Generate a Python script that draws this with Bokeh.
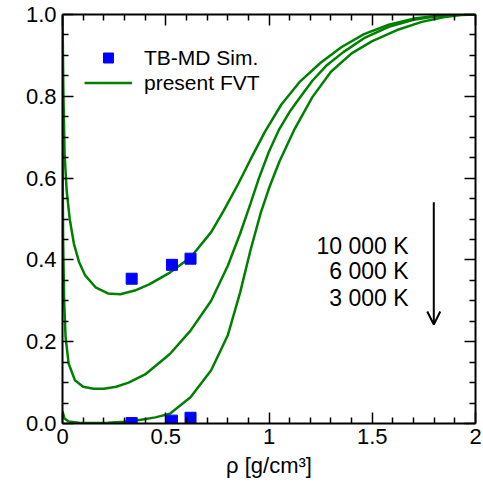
import math
from bokeh.plotting import figure
from bokeh.models import (Range1d, LinearAxis, FixedTicker, Legend, LegendItem,
                          Label, Arrow, OpenHead)
from bokeh.embed import file_html
from bokeh.resources import INLINE

# ---------------- data ----------------
sim_rho = [0.335, 0.53, 0.62, 0.335, 0.53, 0.62]
sim_alpha = [0.354, 0.388, 0.403, 0.001, 0.007, 0.014]

fvt_10000_rho = [0.0, 0.004, 0.01, 0.02, 0.035, 0.055, 0.08, 0.11, 0.16, 0.22, 0.28,
                 0.35, 0.42, 0.52, 0.62, 0.72, 0.78, 0.85, 0.91, 0.98, 1.06, 1.15,
                 1.25, 1.35, 1.46, 1.58, 1.70, 1.82, 1.92, 2.0]
fvt_10000_alpha = [1.0, 0.82, 0.66, 0.57, 0.50, 0.44, 0.395, 0.362, 0.333, 0.318, 0.316,
                   0.325, 0.34, 0.369, 0.406, 0.468, 0.52, 0.585, 0.645, 0.713, 0.78, 0.836,
                   0.882, 0.92, 0.952, 0.975, 0.99, 0.997, 1.0, 1.0]

fvt_6000_rho = [0.0, 0.003, 0.008, 0.015, 0.03, 0.06, 0.10, 0.15, 0.20, 0.26, 0.32, 0.40,
                0.52, 0.62, 0.72, 0.80, 0.86, 0.91, 0.95, 1.0, 1.05, 1.10, 1.15, 1.21,
                1.28, 1.36, 1.46, 1.58, 1.70, 1.82, 1.92, 2.0]
fvt_6000_alpha = [0.70, 0.45, 0.30, 0.21, 0.146, 0.106, 0.09, 0.085, 0.085, 0.09, 0.10, 0.12,
                  0.17, 0.227, 0.30, 0.385, 0.464, 0.537, 0.598, 0.665, 0.72, 0.762, 0.797,
                  0.838, 0.876, 0.908, 0.942, 0.97, 0.987, 0.996, 1.0, 1.0]

fvt_3000_rho = [0.0, 0.01, 0.03, 0.08, 0.15, 0.22, 0.30, 0.38, 0.45, 0.52, 0.62, 0.72, 0.80,
                0.86, 0.91, 0.96, 1.0, 1.05, 1.12, 1.21, 1.30, 1.40, 1.50, 1.62, 1.74,
                1.85, 1.93, 2.0]
fvt_3000_alpha = [0.03, 0.012, 0.005, 0.002, 0.001, 0.002, 0.004, 0.009, 0.015, 0.024, 0.064,
                  0.13, 0.215, 0.32, 0.423, 0.515, 0.575, 0.64, 0.716, 0.798, 0.86, 0.905,
                  0.935, 0.962, 0.982, 0.994, 0.999, 1.0]

x_ticks = [0, 0.5, 1, 1.5, 2]
x_tick_labels = ["0", "0.5", "1", "1.5", "2"]
x_minor = [0.1, 0.2, 0.3, 0.4, 0.6, 0.7, 0.8, 0.9, 1.1, 1.2, 1.3, 1.4, 1.6, 1.7, 1.8, 1.9]
y_ticks = [0.0, 0.2, 0.4, 0.6, 0.8, 1.0]
y_tick_labels = ["0.0", "0.2", "0.4", "0.6", "0.8", "1.0"]
y_minor = [0.05, 0.1, 0.15, 0.25, 0.3, 0.35, 0.45, 0.5, 0.55, 0.65, 0.7, 0.75,
           0.85, 0.9, 0.95]
temp_labels = ["10 000 K", "6 000 K", "3 000 K"]
x_title = "ρ [g/cm³]"
y_title = "α"
legend_labels = ["TB-MD Sim.", "present FVT"]

FONT = "Liberation Sans"
GREEN = "#008000"
BLUE = "#0000ff"

p = figure(frame_width=413, frame_height=409, output_backend="svg", toolbar_location=None,
           x_range=Range1d(0, 2), y_range=Range1d(0, 1),
           min_border_left=62, min_border_right=7, min_border_top=14, min_border_bottom=69,
           x_axis_label=x_title)
p.grid.visible = False
p.outline_line_color = None
p.background_fill_color = "white"
p.border_fill_color = "white"


def style_axis(ax, ticks, minor, labels, show_labels=True):
    ax.ticker = FixedTicker(ticks=ticks, minor_ticks=minor)
    ax.major_tick_in = 11
    ax.major_tick_out = 0
    ax.minor_tick_in = 6
    ax.minor_tick_out = 0
    ax.axis_line_width = 2
    ax.axis_line_color = "black"
    ax.major_tick_line_width = 1.5
    ax.minor_tick_line_width = 1.5
    ax.major_tick_line_color = "black"
    ax.minor_tick_line_color = "black"
    if show_labels:
        ax.major_label_overrides = dict(zip(ticks, labels))
        ax.major_label_text_font = FONT
        ax.major_label_text_font_size = "22px"
        ax.major_label_text_color = "black"
        ax.axis_label_text_font = FONT
        ax.axis_label_text_font_size = "22px"
        ax.axis_label_text_font_style = "normal"
        ax.axis_label_text_color = "black"
    else:
        ax.major_label_text_color = None
        ax.major_label_text_font_size = "1px"
        ax.major_label_standoff = 0


style_axis(p.xaxis[0], x_ticks, x_minor, x_tick_labels)
style_axis(p.yaxis[0], y_ticks, y_minor, y_tick_labels)
p.xaxis[0].major_label_standoff = 5
p.xaxis[0].axis_label_standoff = 6
p.yaxis[0].major_label_standoff = 6

top_ax = LinearAxis()
right_ax = LinearAxis()
style_axis(top_ax, x_ticks, x_minor, x_tick_labels, show_labels=False)
style_axis(right_ax, y_ticks, y_minor, y_tick_labels, show_labels=False)
p.add_layout(top_ax, "above")
p.add_layout(right_ax, "right")

r1 = p.line(fvt_10000_rho, fvt_10000_alpha, line_color=GREEN, line_width=2.5)
r2 = p.line(fvt_6000_rho, fvt_6000_alpha, line_color=GREEN, line_width=2.5)
r3 = p.line(fvt_3000_rho, fvt_3000_alpha, line_color=GREEN, line_width=2.5)
rs = p.scatter(sim_rho, sim_alpha, marker="square", size=11,
               fill_color=BLUE, line_color=BLUE, line_width=1)

legend = Legend(items=[LegendItem(label=legend_labels[0], renderers=[rs]),
                       LegendItem(label=legend_labels[1], renderers=[r1])],
                location=(22, 328), padding=0, spacing=0, margin=0,
                glyph_width=48, glyph_height=25, label_height=25, label_standoff=12,
                label_text_font=FONT, label_text_font_size="21px",
                label_text_color="black",
                border_line_color=None, background_fill_alpha=0)
p.add_layout(legend)

# y-axis title, placed left of the tick labels
p.add_layout(Label(x=-0.225, y=0.5, text=y_title, angle=math.pi / 2,
                   text_align="center", text_baseline="middle", text_font=FONT,
                   text_font_size="22px", text_color="black"))

label_y = [0.435, 0.372, 0.308]
for txt, yy in zip(temp_labels, label_y):
    p.add_layout(Label(x=1.676, y=yy, text=txt, text_align="right",
                       text_baseline="alphabetic", text_font=FONT,
                       text_font_size="23px", text_color="black"))

p.add_layout(Arrow(end=OpenHead(size=13, line_width=2, line_color="black"),
                   x_start=1.798, y_start=0.541, x_end=1.798, y_end=0.242,
                   line_width=2, line_color="black"))

open("out.html", "w").write(file_html(p, INLINE))
